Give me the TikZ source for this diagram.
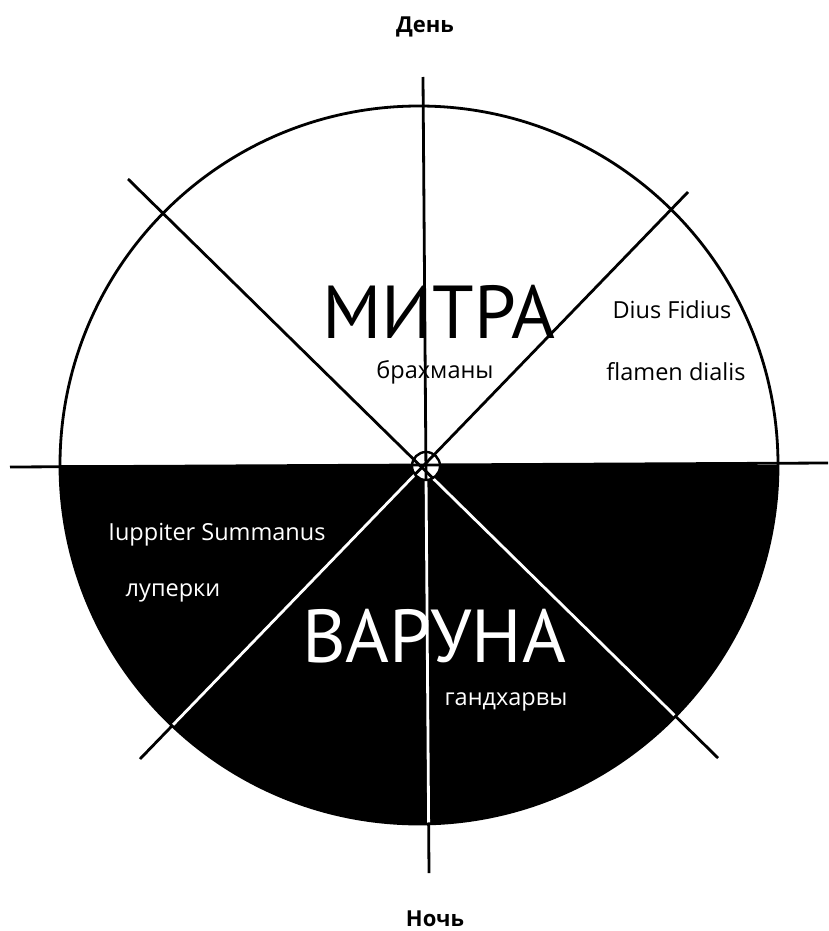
\documentclass[tikz,border=0pt]{standalone}
\usepackage{fontspec}
\setmainfont{PT Sans}
\newfontfamily\smallfont{Open Sans}
\begin{document}
\begin{tikzpicture}[x=1pt,y=-1pt,
  ln/.style={line width=2.8pt},
  big/.style={font=\fontsize{75}{75}\selectfont, anchor=base, inner sep=0pt},
  small/.style={font=\smallfont\fontsize{23.5}{23.5}\selectfont, anchor=base, inner sep=0pt},
  head/.style={font=\smallfont\fontsize{22}{22}\selectfont\bfseries, anchor=base, inner sep=0pt}]
\useasboundingbox (0,0) rectangle (828,931);
\fill[white] (0,0) rectangle (828,931);
\coordinate (C) at (419,465);
\coordinate (O) at (426,466);
\coordinate (vt) at (423,77);
\coordinate (vb) at (429,873);
\coordinate (hl) at (10,467);
\coordinate (hr) at (828,463);
\coordinate (d1a) at (128,179);
\coordinate (d1b) at (718,758);
\coordinate (d2a) at (688,192);
\coordinate (d2b) at (140,759);
% lower half filled
\begin{scope}
  \clip (0,465) rectangle (828,931);
  \fill (C) circle [radius=359pt];
\end{scope}
% circle outline
\draw[ln] (C) circle [radius=359pt];
% lines
\draw[ln] (vt) -- (vb);
\draw[ln] (hl) -- (hr);
\draw[ln] (d1a) -- (d1b);
\draw[ln] (d2a) -- (d2b);
% white parts inside black half
\begin{scope}
  \clip (0,467) rectangle (828,931);
  \clip (C) circle [radius=357.6pt];
  \draw[ln, white] (vt) -- (vb);
  \draw[ln, white] (d1a) -- (d1b);
  \draw[ln, white] (d2a) -- (d2b);
\end{scope}
% small centre circle
\fill[white] (O) circle [radius=14pt];
\begin{scope}
  \clip (O) circle [radius=14pt];
  \draw[ln] (vt) -- (vb);
  \draw[ln] (hl) -- (hr);
  \draw[ln] (d1a) -- (d1b);
  \draw[ln] (d2a) -- (d2b);
\end{scope}
\draw[line width=2.4pt] (O) circle [radius=14pt];
% texts
\node[head] (den) at (425,33) {День};
\node[head] (noch) at (435,926) {Ночь};
\node[big] (mitra) at (439,338) {МИТРА};
\node[small] (brah) at (435,378) {брахманы};
\node[small] (dius) at (672,318) {Dius Fidius};
\node[small] (flamen) at (676,380) {flamen dialis};
\node[small, white] (iup) at (217,540) {Iuppiter Summanus};
\node[small, white] (lup) at (173,596) {луперки};
\node[big, white] (varuna) at (434,662) {ВАРУНА};
\node[small, white] (gand) at (506,705) {гандхарвы};
\end{tikzpicture}
\end{document}
